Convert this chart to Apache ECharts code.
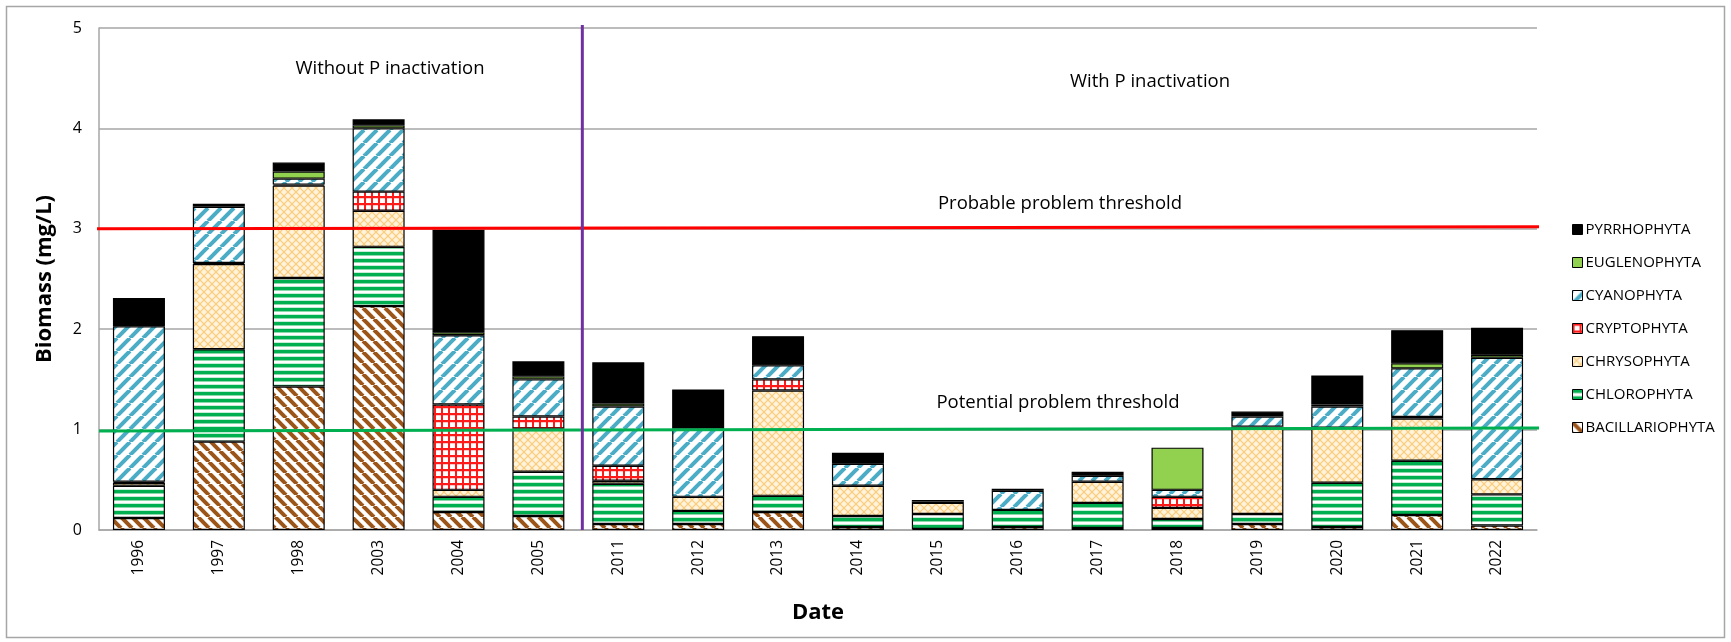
<!DOCTYPE html>
<html>
<head>
<meta charset="utf-8">
<script src="https://cdn.jsdelivr.net/npm/echarts@6/dist/echarts.min.js"></script>
<style>
  html, body { margin: 0; padding: 0; background: #fff; }
  #chart { width: 1731px; height: 642px; }
</style>
</head>
<body>
<div id="chart"></div>
<script>
// Sampling years
const years = ['1996', '1997', '1998', '2003', '2004', '2005', '2011', '2012', '2013',
  '2014', '2015', '2016', '2017', '2018', '2019', '2020', '2021', '2022'];

// Biomass by phylum (mg/L), stacked bottom to top
const bacillariophyta = [0.12, 0.88, 1.43, 2.23, 0.18, 0.14, 0.06, 0.06, 0.18, 0.03, 0.01, 0.03, 0.02, 0.02, 0.06, 0.03, 0.15, 0.045];
const chlorophyta     = [0.32, 0.92, 1.08, 0.59, 0.15, 0.44, 0.40, 0.13, 0.16, 0.11, 0.15, 0.17, 0.25, 0.09, 0.10, 0.44, 0.54, 0.31];
const chrysophyta     = [0.03, 0.85, 0.92, 0.36, 0.07, 0.43, 0.03, 0.14, 1.05, 0.30, 0.11, 0.00, 0.21, 0.11, 0.87, 0.55, 0.42, 0.15];
const cryptophyta     = [0.01, 0.01, 0.01, 0.19, 0.85, 0.12, 0.15, 0.00, 0.11, 0.00, 0.00, 0.00, 0.00, 0.11, 0.00, 0.00, 0.015, 0.00];
const cyanophyta      = [1.55, 0.56, 0.06, 0.63, 0.69, 0.37, 0.59, 0.68, 0.14, 0.22, 0.015, 0.19, 0.06, 0.07, 0.10, 0.21, 0.485, 1.21];
const euglenophyta    = [0.00, 0.00, 0.07, 0.03, 0.03, 0.03, 0.03, 0.00, 0.00, 0.00, 0.00, 0.00, 0.00, 0.42, 0.00, 0.02, 0.05, 0.03];
const pyrrhophyta     = [0.28, 0.03, 0.09, 0.06, 1.02, 0.15, 0.41, 0.39, 0.29, 0.11, 0.015, 0.02, 0.04, 0.00, 0.05, 0.29, 0.33, 0.27];

// Axis ticks and reference levels
const yTicks = { min: 0, max: 5, interval: 1 };
const probableThreshold = 3;
const potentialThreshold = 1;
const treatmentStart = 6.05;   // boundary between 2005 and 2011 on the category scale

// ---- fill patterns ----
function makeCanvas(w, h, draw) {
  const c = document.createElement('canvas');
  c.width = w; c.height = h;
  const ctx = c.getContext('2d');
  ctx.fillStyle = '#ffffff';
  ctx.fillRect(0, 0, w, h);
  draw(ctx, w, h);
  return { image: c, repeat: 'repeat' };
}
function diagonal(color, size, width, forward) {
  return makeCanvas(size, size, (ctx, s) => {
    ctx.strokeStyle = color;
    ctx.lineWidth = width;
    for (let k = -s; k <= s; k += s) {
      ctx.beginPath();
      if (forward) { ctx.moveTo(k, s); ctx.lineTo(k + s, 0); }
      else { ctx.moveTo(k, 0); ctx.lineTo(k + s, s); }
      ctx.stroke();
    }
  });
}
const patBacillario = diagonal('#9C5518', 11, 4, false);
const patCyano = diagonal('#4BACC6', 13, 4, true);
const patChloro = makeCanvas(4, 7, (ctx, w) => {
  ctx.fillStyle = '#00B050'; ctx.fillRect(0, 0, w, 3);
  ctx.fillStyle = '#8CD9AC'; ctx.fillRect(0, 3, w, 1);
  ctx.fillStyle = '#C6EED7'; ctx.fillRect(0, 6, w, 1);
});
const patCrypto = makeCanvas(7, 7, (ctx, w, h) => {
  ctx.fillStyle = '#FF1A1A';
  ctx.fillRect(0, 0, w, 2);
  ctx.fillRect(0, 0, 2, h);
  ctx.fillStyle = '#FFC8C8';
  ctx.fillRect(2, 2, w - 2, 1);
});
const patChryso = makeCanvas(8, 8, (ctx, s) => {
  ctx.fillStyle = '#FFF3DC'; ctx.fillRect(0, 0, s, s);
  ctx.strokeStyle = '#FCCB78';
  ctx.lineWidth = 1.2;
  for (let k = -s; k <= s; k += s) {
    ctx.beginPath(); ctx.moveTo(k, 0); ctx.lineTo(k + s, s); ctx.stroke();
    ctx.beginPath(); ctx.moveTo(k, s); ctx.lineTo(k + s, 0); ctx.stroke();
  }
});

const groups = [
  { name: 'BACILLARIOPHYTA', data: bacillariophyta, fill: patBacillario },
  { name: 'CHLOROPHYTA', data: chlorophyta, fill: patChloro },
  { name: 'CHRYSOPHYTA', data: chrysophyta, fill: patChryso },
  { name: 'CRYPTOPHYTA', data: cryptophyta, fill: patCrypto },
  { name: 'CYANOPHYTA', data: cyanophyta, fill: patCyano },
  { name: 'EUGLENOPHYTA', data: euglenophyta, fill: '#92D050' },
  { name: 'PYRRHOPHYTA', data: pyrrhophyta, fill: '#000000' }
];

const FONT = '"Open Sans", "Noto Sans", sans-serif';

const barSeries = groups.map(g => ({
  name: g.name,
  type: 'bar',
  stack: 'biomass',
  barWidth: 52,
  data: g.data.map(v => (v > 0 ? v : null)),
  itemStyle: { color: g.fill, borderColor: '#000', borderWidth: 1.2 },
  emphasis: { disabled: true }
}));

// Guide lines drawn on a hidden numeric x scale spanning the category band
function guide(name, points, color) {
  return {
    name: name,
    type: 'line',
    xAxisIndex: 1,
    data: points,
    symbol: 'none',
    silent: true,
    clip: false,
    z: 5,
    lineStyle: { color: color, width: 3 },
    emphasis: { disabled: true }
  };
}
const guideSeries = [
  guide('probable', [[-0.09, probableThreshold], [18.03, probableThreshold + 0.02]], '#FF0000'),
  guide('potential', [[0, potentialThreshold - 0.015], [18.03, potentialThreshold + 0.015]], '#00B050'),
  guide('treatment', [[treatmentStart, 0], [treatmentStart, yTicks.max + 0.03]], '#7030A0')
];

const chart = echarts.init(document.getElementById('chart'), null, { renderer: 'canvas' });
chart.setOption({
  backgroundColor: '#ffffff',
  animation: false,
  textStyle: { fontFamily: FONT },
  grid: { left: 99, right: 194, top: 28, bottom: 112 },
  xAxis: [
    {
      type: 'category',
      data: years,
      axisLine: { lineStyle: { color: '#A6A6A6', width: 1.5 } },
      axisTick: { show: false },
      axisLabel: { rotate: 90, fontSize: 15.5, color: '#000', margin: 10, fontFamily: FONT },
      name: 'Date',
      nameLocation: 'middle',
      nameGap: 72,
      nameTextStyle: { fontSize: 22, fontWeight: 'bold', color: '#000', fontFamily: FONT }
    },
    { type: 'value', min: 0, max: 18, show: false }
  ],
  yAxis: {
    type: 'value',
    min: yTicks.min,
    max: yTicks.max,
    interval: yTicks.interval,
    axisLine: { show: true, lineStyle: { color: '#A6A6A6', width: 1.5 } },
    axisTick: { show: false },
    splitLine: { lineStyle: { color: '#A6A6A6', width: 1.5 } },
    axisLabel: { fontSize: 16, color: '#000', margin: 17, fontFamily: FONT },
    name: 'Biomass (mg/L)',
    nameLocation: 'middle',
    nameRotate: 90,
    nameGap: 43,
    nameTextStyle: { fontSize: 22, fontWeight: 'bold', color: '#000', fontFamily: FONT }
  },
  legend: {
    orient: 'vertical',
    left: 1567,
    top: 214,
    itemWidth: 10,
    itemHeight: 10,
    itemGap: 12,
    icon: 'rect',
    selectedMode: false,
    data: groups.map(g => g.name).reverse(),
    itemStyle: { borderColor: '#000', borderWidth: 1 },
    textStyle: { fontSize: 15, lineHeight: 21, color: '#000', fontFamily: FONT, padding: [0, 0, 0, -2] }
  },
  graphic: [
    { type: 'rect', silent: true, shape: { x: 6.5, y: 6.5, width: 1718, height: 631 },
      style: { fill: 'none', stroke: '#A6A6A6', lineWidth: 1.5 } },
    { type: 'text', silent: true, x: 390, y: 69,
      style: { text: 'Without P inactivation', font: '18.5px ' + FONT, fill: '#000', align: 'center', verticalAlign: 'middle' } },
    { type: 'text', silent: true, x: 1150, y: 82,
      style: { text: 'With P inactivation', font: '18.5px ' + FONT, fill: '#000', align: 'center', verticalAlign: 'middle' } },
    { type: 'text', silent: true, x: 1060, y: 204,
      style: { text: 'Probable problem threshold', font: '18.5px ' + FONT, fill: '#000', align: 'center', verticalAlign: 'middle' } },
    { type: 'text', silent: true, x: 1058, y: 403,
      style: { text: 'Potential problem threshold', font: '18.5px ' + FONT, fill: '#000', align: 'center', verticalAlign: 'middle' } }
  ],
  series: barSeries.concat(guideSeries)
});
</script>
</body>
</html>
